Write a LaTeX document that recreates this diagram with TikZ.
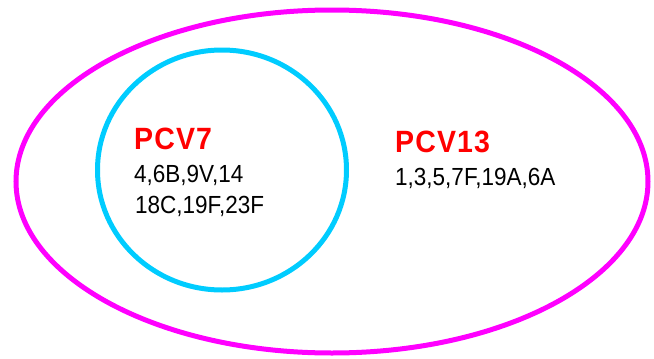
\documentclass[tikz,border=0pt]{standalone}
\usepackage{fontspec}
\setmainfont{Liberation Sans}
\newfontfamily\pcvfont[LetterSpace=4]{Liberation Sans}
\definecolor{vmag}{RGB}{255,0,255}
\definecolor{vcyan}{RGB}{0,204,255}
\definecolor{vred}{RGB}{255,0,0}
\begin{document}
\begin{tikzpicture}[x=1pt,y=-1pt,
    vname/.style={anchor=base west,inner sep=0,text=vred,yscale=1.08,font=\pcvfont\bfseries\fontsize{28.5}{28.5}\selectfont},
    vlist/.style={anchor=base west,inner sep=0,yscale=1.1,font=\fontsize{22.5}{22.5}\selectfont}]
    \useasboundingbox(0,0)rectangle(654,359);
    \draw[vmag,line width=5pt](332,181.5)ellipse(316pt and 171.5pt);
    \draw[vcyan,line width=5pt](222,170)ellipse(124.5pt and 120pt);
    % inner set
    \node[vname](pcv7)at(134,149){PCV7};
    \node[vlist](pcv7a)at(134,182){4,6B,9V,14};
    \node[vlist](pcv7b)at(135,213){18C,19F,23F};
    % outer set
    \node[vname](pcv13)at(395,152){PCV13};
    \node[vlist](pcv13a)at(395,185){1,3,5,7F,19A,6A};
\end{tikzpicture}
\end{document}
